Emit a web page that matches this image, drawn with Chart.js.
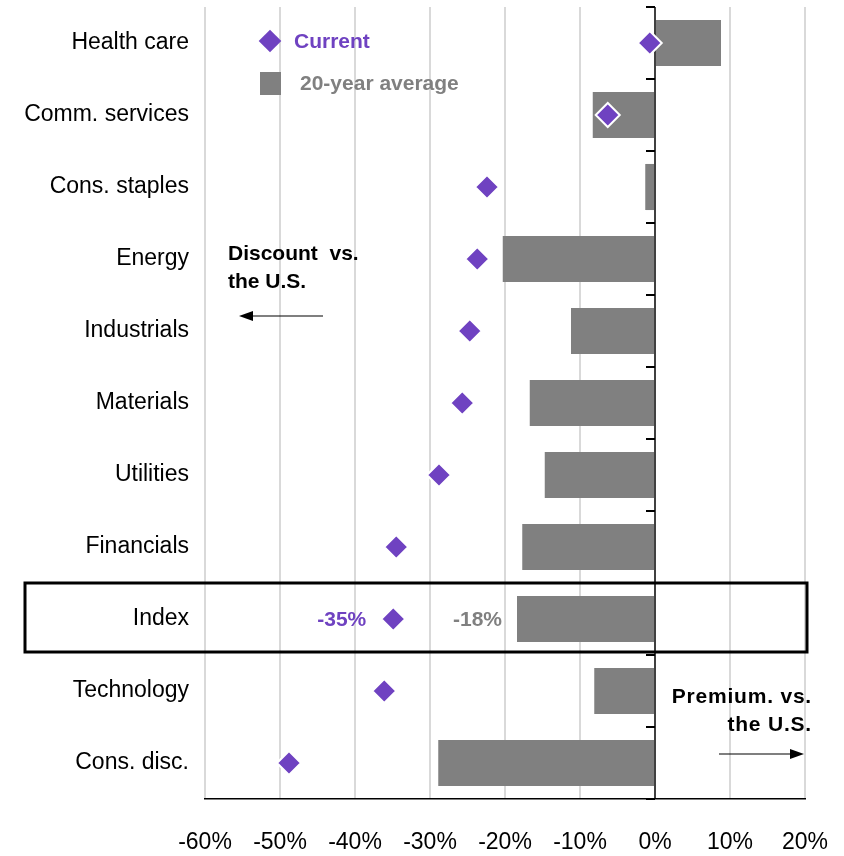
<!DOCTYPE html>
<html>
<head>
<meta charset="utf-8">
<script src="https://cdn.jsdelivr.net/npm/chart.js@4.4.1/dist/chart.umd.min.js"></script>
<style>
  body { margin: 0; background: #fff; font-family: "Liberation Sans", Arial, sans-serif; }
  #wrap { position: relative; width: 844px; height: 856px; }
  .note { position: absolute; font-weight: bold; white-space: pre; }
  .legdia { position: absolute; width: 16px; height: 16px; background: #6f42c1; transform: rotate(45deg); }
  .legsq { position: absolute; width: 21px; height: 23px; background: #808080; }
</style>
</head>
<body>
<div id="wrap">
  <canvas id="chart" width="844" height="856"></canvas>

  <div class="legdia" style="left:262px; top:33px;"></div>
  <div class="note" style="left:294px; top:29px; font-size:21px; color:#6f42c1;">Current</div>
  <div class="legsq" style="left:260px; top:72px;"></div>
  <div class="note" style="left:300px; top:71px; font-size:21px; color:#808080;">20-year average</div>

  <div class="note" style="left:228px; top:239px; font-size:21px; line-height:28px; color:#000;">Discount  vs.
the U.S.</div>
  <div class="note" style="right:32px; top:682px; font-size:21px; line-height:28px; color:#000; text-align:right; letter-spacing:0.8px;">Premium. vs.
the U.S.</div>

  <svg style="position:absolute; left:0; top:0;" width="844" height="856">
    <line x1="323" y1="316" x2="250" y2="316" stroke="#000" stroke-width="1.2"/>
    <polygon points="239,316 253,311 253,321" fill="#000"/>
    <line x1="719" y1="754" x2="792" y2="754" stroke="#000" stroke-width="1.2"/>
    <polygon points="804,754 790,749 790,759" fill="#000"/>
  </svg>
</div>

<script>
const categories = ['Health care', 'Comm. services', 'Cons. staples', 'Energy', 'Industrials',
  'Materials', 'Utilities', 'Financials', 'Index', 'Technology', 'Cons. disc.'];
const currentValues = [-0.7, -6.3, -22.4, -23.7, -24.7, -25.7, -28.8, -34.5, -34.9, -36.1, -48.8];
const avgValues = [8.8, -8.3, -1.3, -20.3, -11.2, -16.7, -14.7, -17.7, -18.4, -8.1, -28.9];
const xTicks = [-60, -50, -40, -30, -20, -10, 0, 10, 20];
const highlightCategory = 'Index';

const PURPLE = '#6f42c1';
const GRAY = '#808080';
const FONT = '"Liberation Sans", Arial, sans-serif';

// little tick marks on the zero line, box round the Index row, its labels
const extras = {
  id: 'extras',
  afterDraw(chart) {
    const ctx = chart.ctx;
    const xs = chart.scales.x, ys = chart.scales.y;
    const x0 = xs.getPixelForValue(0);
    const n = categories.length;
    const band = (ys.bottom - ys.top) / n;

    ctx.save();
    ctx.strokeStyle = '#000';
    ctx.lineWidth = 2;
    for (let i = 0; i <= n; i++) {
      const y = Math.round(ys.top + i * band);
      ctx.beginPath();
      ctx.moveTo(x0 - 9, y);
      ctx.lineTo(x0, y);
      ctx.stroke();
    }

    const idx = categories.indexOf(highlightCategory);
    const yc = ys.getPixelForValue(idx);
    ctx.lineWidth = 3;
    ctx.strokeRect(25, yc - 36, xs.right + 2 - 25, 69);

    ctx.font = 'bold 21px ' + FONT;
    ctx.textAlign = 'right';
    ctx.textBaseline = 'middle';
    ctx.fillStyle = PURPLE;
    ctx.fillText(Math.round(currentValues[idx]) + '%', xs.getPixelForValue(currentValues[idx]) - 27, yc + 1);
    ctx.fillStyle = GRAY;
    ctx.fillText(Math.round(avgValues[idx]) + '%', xs.getPixelForValue(avgValues[idx]) - 15, yc + 1);
    ctx.restore();
  }
};

new Chart(document.getElementById('chart'), {
  type: 'bar',
  data: {
    labels: categories,
    datasets: [
      {
        type: 'line',
        label: 'Current',
        data: currentValues,
        indexAxis: 'y',
        showLine: false,
        pointStyle: 'rectRot',
        pointRadius: 12,
        pointHoverRadius: 12,
        pointBackgroundColor: PURPLE,
        pointBorderColor: '#fff',
        pointBorderWidth: 2,
        order: 0
      },
      {
        label: '20-year average',
        data: avgValues,
        backgroundColor: GRAY,
        borderWidth: 0,
        categoryPercentage: 1,
        barPercentage: 0.64,
        order: 1
      }
    ]
  },
  options: {
    indexAxis: 'y',
    responsive: false,
    animation: false,
    layout: { autoPadding: false, padding: { top: 7, right: 39, left: 0, bottom: 0 } },
    plugins: { legend: { display: false }, tooltip: { enabled: false } },
    scales: {
      x: {
        min: -60,
        max: 20,
        afterBuildTicks(scale) { scale.ticks = xTicks.map(v => ({ value: v })); },
        afterFit(scale) {
          scale.height = 57;
          scale.paddingLeft = 0;
          scale.paddingRight = 0;
        },
        ticks: {
          padding: 30,
          color: '#000',
          font: { family: FONT, size: 23 },
          callback: v => v + '%'
        },
        grid: {
          drawTicks: false,
          color: c => c.tick && c.tick.value === 0 ? '#404040' : '#d9d9d9',
          lineWidth: 2
        },
        border: { display: true, color: '#000', width: 1.5 }
      },
      y: {
        afterFit(scale) {
          scale.width = 205;
          scale.paddingTop = 0;
          scale.paddingBottom = 0;
        },
        ticks: {
          padding: 16,
          color: '#000',
          font: { family: FONT, size: 23 }
        },
        grid: { display: false, drawTicks: false },
        border: { display: false }
      }
    }
  },
  plugins: [extras]
});
</script>
</body>
</html>
